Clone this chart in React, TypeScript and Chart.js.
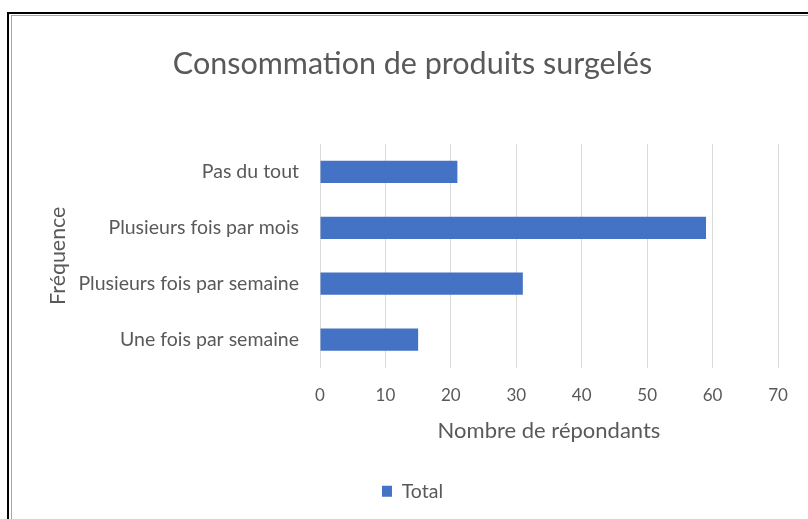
import React, { useEffect, useRef } from "react";
import { Chart, registerables } from "chart.js";

Chart.register(...registerables);

const categories = [
  "Pas du tout",
  "Plusieurs fois par mois",
  "Plusieurs fois par semaine",
  "Une fois par semaine",
];
const totals = [21, 59, 31, 15];
const xTicks = [0, 10, 20, 30, 40, 50, 60, 70];
const chartTitle = "Consommation de produits surgelés";
const xAxisTitle = "Nombre de répondants";
const yAxisTitle = "Fréquence";
const seriesName = "Total";

const FONT = "Lato, 'Open Sans', sans-serif";
const TEXT = "#595959";

export default function App() {
  const ref = useRef<HTMLCanvasElement>(null);
  useEffect(() => {
    const chart = new Chart(ref.current as HTMLCanvasElement, {
      type: "bar",
      data: {
        labels: categories,
        datasets: [
          {
            label: seriesName,
            data: totals,
            backgroundColor: "#4472c4",
            borderWidth: 0,
            barPercentage: 0.4,
            categoryPercentage: 1,
          },
        ],
      },
      options: {
        indexAxis: "y",
        animation: false,
        responsive: false,
        devicePixelRatio: 1,
        layout: { padding: { left: 34, right: 30, top: 0, bottom: 8 } },
        plugins: {
          title: {
            display: true,
            text: chartTitle,
            color: TEXT,
            font: { family: FONT, size: 30.5, weight: "normal", lineHeight: 1.2 },
            padding: { top: 29, bottom: 61.4 },
          },
          legend: {
            position: "bottom",
            labels: {
              boxWidth: 10,
              boxHeight: 11,
              padding: 24,
              color: TEXT,
              font: { family: FONT, size: 19.5 },
            },
          },
          tooltip: { enabled: false },
        },
        scales: {
          x: {
            min: 0,
            max: 70,
            afterBuildTicks: (s: any) => {
              s.ticks = xTicks.map((v) => ({ value: v }));
            },
            ticks: { padding: 17.8, color: TEXT, font: { family: FONT, size: 17, lineHeight: 1.2 } },
            grid: { color: "#d9d9d9", drawTicks: false },
            border: { display: false },
            title: {
              display: true,
              text: xAxisTitle,
              color: TEXT,
              font: { family: FONT, size: 22, lineHeight: 1.2 },
              padding: { top: 0, bottom: 13.8 },
            },
            afterFit: (s: any) => {
              s.height = 90;
            },
          },
          y: {
            ticks: { padding: 21, color: TEXT, font: { family: FONT, size: 19.5 } },
            grid: { display: false, drawTicks: false },
            border: { display: false },
            title: {
              display: true,
              text: yAxisTitle,
              color: TEXT,
              font: { family: FONT, size: 21.4, lineHeight: 1 },
              padding: { top: 0, bottom: 0 },
            },
            afterFit: (s: any) => {
              s.width = 273;
            },
          },
        },
      },
    } as any);
    return () => chart.destroy();
  }, []);

  return (
    <div
      style={{
        position: "fixed",
        left: 0,
        top: 0,
        width: 808,
        height: 519,
        overflow: "hidden",
        background: "#fff",
      }}
    >
      <div style={{ position: "absolute", left: 7, top: 12, right: 0, height: 2, background: "#000" }} />
      <div style={{ position: "absolute", left: 7, top: 12, width: 2, bottom: 0, background: "#000" }} />
      <div style={{ position: "absolute", left: 11, top: 15, right: 0, height: 1, background: "#a6a6a6" }} />
      <div style={{ position: "absolute", left: 11, top: 15, width: 1, bottom: 0, background: "#a6a6a6" }} />
      <canvas
        ref={ref}
        width={795}
        height={502}
        style={{ position: "absolute", left: 13, top: 17, width: 795, height: 502 }}
      />
    </div>
  );
}
